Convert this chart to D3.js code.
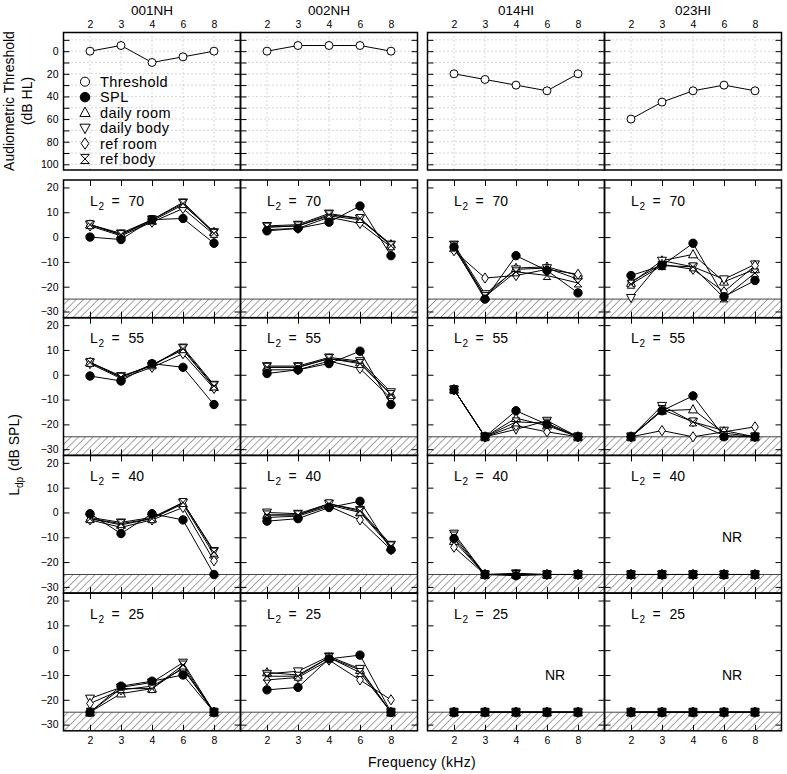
<!DOCTYPE html>
<html><head><meta charset="utf-8">
<script src="https://cdn.jsdelivr.net/npm/d3@7"></script>
<style>body{margin:0;background:#fff}svg text{font-family:"Liberation Sans",Arial,sans-serif;fill:#000}</style>
</head><body>
<svg id="c" width="787" height="774"></svg>
<script>
// ---------------- DATA ----------------
const subjects = ["001NH", "002NH", "014HI", "023HI"];
const freqs = [2, 3, 4, 6, 8];
const levels = [70, 55, 40, 25];
const legendNames = ["Threshold", "SPL", "daily room", "daily body", "ref room", "ref body"];
const audTicks = [-10, 0, 10, 20, 30, 40, 50, 60, 70, 80, 90, 100];
const audLabels = [0, 20, 40, 60, 80, 100];
const dpTicks = [-30, -20, -10, 0, 10, 20];
const noiseFloor = -25;

// audiometric thresholds (dB HL)
const thr001NH = [0, -5, 10, 5, 0];
const thr002NH = [0, -5, -5, -5, 0];
const thr014HI = [20, 25, 30, 35, 20];
const thr023HI = [60, 45, 35, 30, 35];

// DPOAE levels: rows = SPL, daily room, daily body, ref room, ref body
const dp001NH_70 = [[0,-1,7,7.5,-2.5],[5,1,6.5,13,2],[5,1.5,7,14,2],[4.5,0.5,6,11.5,1],[5,1,7,13.5,1.5]];
const dp001NH_55 = [[-0.5,-2.5,4.5,3,-12],[5,-1,4,10,-5],[5,-0.5,3.5,11,-4],[4.5,-1.5,3,8.5,-5.5],[5,-1,4,10.5,-4.5]];
const dp001NH_40 = [[-0.5,-8.5,-0.5,-3,-25],[-2.5,-5,-2.5,3.5,-17],[-2,-4,-2,4,-15.5],[-3,-6,-3,2,-19.5],[-2.5,-4.5,-2.5,4,-16]];
const dp001NH_25 = [[-25,-14.5,-12.5,-10,-25],[-25,-17.5,-15.5,-7,-25],[-19.5,-15,-13,-5,-25],[-21.5,-16,-14.5,-7.5,-25],[-25,-15.5,-15.5,-6,-25]];

const dp002NH_70 = [[2.5,3.5,6,12.5,-7.5],[4,4.5,8.5,7,-3],[4.5,5,9.5,7.5,-3],[3,3.5,8,5.5,-4],[4,4.5,9,7.5,-3.5]];
const dp002NH_55 = [[0.5,2,4.5,9.5,-12],[3,3,6.5,5,-8],[3.5,3.5,7,5.5,-7],[2,2,5.5,2.5,-9.5],[3,3,6.5,4.5,-8]];
const dp002NH_40 = [[-3.5,-2.5,2,4.5,-15],[-1,-1,3,0,-14],[0,-0.5,3.5,1,-13],[-2,-1.5,2.5,-3,-15],[-1,-1,3.5,0.5,-13.5]];
const dp002NH_25 = [[-16,-15,-3.5,-2,-25],[-9,-10,-3,-8,-25],[-9.5,-8.5,-2.5,-7.5,-25],[-12,-11,-4,-12,-20],[-10.5,-10.5,-3,-9,-25]];

const dp014HI_70 = [[-4,-25,-7.5,-13.5,-22.5],[-4.5,-24,-12.5,-12,-15.5],[-3,-23,-13,-12.5,-17],[-5.5,-16.5,-15.5,-13,-15],[-3.5,-24,-14,-15.5,-18.5]];
const dp014HI_55 = [[-6,-25,-14.5,-20,-25],[-6,-25,-17.5,-20.5,-25],[-6,-25,-22,-18.5,-25],[-6,-25,-20.5,-23,-25],[-6,-25,-19,-19.5,-25]];
const dp014HI_40 = [[-10.5,-25,-25.5,-25,-25],[-11.5,-25,-25,-25,-25],[-8.5,-25,-24.5,-25,-25],[-14,-25,-25,-25,-25],[-9.5,-25,-25,-25,-25]];
const dp014HI_25 = [[-25,-25,-25,-25,-25],[-25,-25,-25,-25,-25],[-25,-25,-25,-25,-25],[-25,-25,-25,-25,-25],[-25,-25,-25,-25,-25]];

const dp023HI_70 = [[-15.5,-11.5,-2.5,-24,-17.5],[-18.5,-9.5,-7,-18,-13],[-24.5,-9.5,-12,-17,-11],[-18,-11,-13,-22,-11.5],[-19,-11.5,-12,-24.5,-14.5]];
const dp023HI_55 = [[-25,-14.5,-8.5,-25,-25],[-25,-14.5,-14,-23.5,-25],[-25,-12.5,-19,-22.5,-25],[-25,-22.5,-25,-23,-21],[-25,-14,-19,-24.5,-25]];
const dp023HI_40 = [[-25,-25,-25,-25,-25],[-25,-25,-25,-25,-25],[-25,-25,-25,-25,-25],[-25,-25,-25,-25,-25],[-25,-25,-25,-25,-25]];
const dp023HI_25 = [[-25,-25,-25,-25,-25],[-25,-25,-25,-25,-25],[-25,-25,-25,-25,-25],[-25,-25,-25,-25,-25],[-25,-25,-25,-25,-25]];

const nrSubjects = ["023HI", "014HI", "023HI"];
const nrLevels = [40, 25, 25];

// ---------------- LAYOUT ----------------
const thresholds = [thr001NH, thr002NH, thr014HI, thr023HI];
const dpData = [
  [dp001NH_70, dp001NH_55, dp001NH_40, dp001NH_25],
  [dp002NH_70, dp002NH_55, dp002NH_40, dp002NH_25],
  [dp014HI_70, dp014HI_55, dp014HI_40, dp014HI_25],
  [dp023HI_70, dp023HI_55, dp023HI_40, dp023HI_25]
];
const colLeft = [63.5, 240.5, 427.5, 604.5], colW = 177;
const audTop = 32.5, audBot = 170;
const dpTop0 = 180, dpH = 137.7;

const svg = d3.select("#c");
const defs = svg.append("defs");
const pat = defs.append("pattern").attr("id", "hatch").attr("patternUnits", "userSpaceOnUse")
  .attr("width", 5.2).attr("height", 5.2).attr("patternTransform", "rotate(45)");
pat.append("line").attr("x1", 0).attr("y1", 0).attr("x2", 0).attr("y2", 5.2)
  .attr("stroke", "#333").attr("stroke-width", 0.9);

// symbol types
const r0 = s => Math.sqrt(s) / 2;
const symTypes = {
  circle: d3.symbolCircle,
  up: { draw(p, s) { const r = r0(s); p.moveTo(0, -r * 1.15); p.lineTo(r * 1.05, r * 0.8); p.lineTo(-r * 1.05, r * 0.8); p.closePath(); } },
  down: { draw(p, s) { const r = r0(s); p.moveTo(0, r * 1.15); p.lineTo(r * 1.05, -r * 0.8); p.lineTo(-r * 1.05, -r * 0.8); p.closePath(); } },
  diamond: { draw(p, s) { const r = r0(s); p.moveTo(0, -r * 1.2); p.lineTo(r * 0.8, 0); p.lineTo(0, r * 1.2); p.lineTo(-r * 0.8, 0); p.closePath(); } },
  hour: { draw(p, s) { const r = r0(s); p.moveTo(-r * 0.95, -r); p.lineTo(r * 0.95, -r); p.lineTo(-r * 0.95, r); p.lineTo(r * 0.95, r); p.closePath(); } }
};
// series styles (legend order)
const seriesStyle = [
  { type: symTypes.circle, fill: "#fff", size: 50 },   // Threshold
  { type: symTypes.circle, fill: "#000", size: 55 },   // SPL
  { type: symTypes.up, fill: "#fff", size: 72 },       // daily room
  { type: symTypes.down, fill: "#fff", size: 72 },     // daily body
  { type: symTypes.diamond, fill: "#fff", size: 72 },  // ref room
  { type: symTypes.hour, fill: "#fff", size: 64 }      // ref body
];
const drawOrder = [2, 3, 4, 5, 1]; // indices into seriesStyle for dp series

function cleanAxis(g) { g.select(".domain").remove(); g.selectAll("text").style("font-size", "10.5px"); }

subjects.forEach((subj, c) => {
  const L = colLeft[c], R = L + colW;
  const x = d3.scalePoint().domain(freqs).range([L, R]).padding(0.855);

  // ---- audiogram panel ----
  const ya = d3.scaleLinear().domain([-16.5, 105]).range([audTop, audBot]);
  const ga = svg.append("g");
  ga.selectAll(".gx").data(freqs).join("line")
    .attr("x1", d => x(d)).attr("x2", d => x(d)).attr("y1", audTop).attr("y2", audBot)
    .attr("stroke", "#999").attr("stroke-width", 0.8).attr("stroke-dasharray", "1,3");
  ga.selectAll(".gy").data(audTicks).join("line")
    .attr("x1", L).attr("x2", R).attr("y1", d => ya(d)).attr("y2", d => ya(d))
    .attr("stroke", "#999").attr("stroke-width", 0.8).attr("stroke-dasharray", "1,3");
  ga.append("g").attr("transform", `translate(${L},0)`)
    .call(d3.axisLeft(ya).tickValues(audTicks).tickSize(-6).tickPadding(5)
      .tickFormat(d => (c === 0 && audLabels.includes(d)) ? d : ""))
    .call(cleanAxis);
  ga.append("g").attr("transform", `translate(${R},0)`)
    .call(d3.axisRight(ya).tickValues(audTicks).tickSize(-6).tickFormat(""))
    .call(cleanAxis);
  ga.append("g").attr("transform", `translate(0,${audTop})`)
    .call(d3.axisTop(x).tickSize(0).tickPadding(5))
    .call(cleanAxis);
  ga.append("rect").attr("x", L).attr("y", audTop).attr("width", colW).attr("height", audBot - audTop)
    .attr("fill", "none").attr("stroke", "#000").attr("stroke-width", 1.5);
  const thr = thresholds[c];
  ga.append("path").datum(thr)
    .attr("d", d3.line().x((d, i) => x(freqs[i])).y(d => ya(d)))
    .attr("fill", "none").attr("stroke", "#000").attr("stroke-width", 1);
  ga.selectAll(".tm").data(thr).join("path")
    .attr("transform", (d, i) => `translate(${x(freqs[i])},${ya(d)})`)
    .attr("d", d3.symbol().type(seriesStyle[0].type).size(seriesStyle[0].size))
    .attr("fill", "#fff").attr("stroke", "#000").attr("stroke-width", 1);
  svg.append("text").attr("x", (L + R) / 2).attr("y", 15).attr("text-anchor", "middle")
    .style("font-size", "13.5px").text(subj);

  // ---- DP panels ----
  levels.forEach((lev, r) => {
    const T = dpTop0 + r * dpH, B = T + dpH;
    const y = d3.scaleLinear().domain([23, -32.5]).range([T, B]);
    const g = svg.append("g");
    g.append("rect").attr("x", L).attr("y", y(noiseFloor)).attr("width", colW).attr("height", B - y(noiseFloor))
      .attr("fill", "url(#hatch)");
    g.append("line").attr("x1", L).attr("x2", R).attr("y1", y(noiseFloor)).attr("y2", y(noiseFloor))
      .attr("stroke", "#444").attr("stroke-width", 1);
    g.append("g").attr("transform", `translate(${L},0)`)
      .call(d3.axisLeft(y).tickValues(dpTicks).tickSize(-6).tickPadding(5)
        .tickFormat(c === 0 ? d3.format("d") : ""))
      .call(cleanAxis);
    g.append("g").attr("transform", `translate(${R},0)`)
      .call(d3.axisRight(y).tickValues(dpTicks).tickSize(-6).tickFormat(""))
      .call(cleanAxis);
    g.append("g").attr("transform", `translate(0,${T})`)
      .call(d3.axisTop(x).tickSize(-6).tickFormat(""))
      .call(cleanAxis);
    g.append("g").attr("transform", `translate(0,${B})`)
      .call(d3.axisBottom(x).tickSize(-6).tickPadding(6).tickFormat(r === levels.length - 1 ? d => d : ""))
      .call(cleanAxis);
    g.append("rect").attr("x", L).attr("y", T).attr("width", colW).attr("height", dpH)
      .attr("fill", "none").attr("stroke", "#000").attr("stroke-width", 1.5);

    const lx = x(freqs[0]), ly = T + 25.5;
    const t = g.append("text").attr("x", lx).attr("y", ly).style("font-size", "14px");
    t.append("tspan").text("L");
    t.append("tspan").attr("x", lx + 8.5).attr("dy", 4).style("font-size", "10px").text("2");
    t.append("tspan").attr("x", lx + 21.5).attr("dy", -4).text("=");
    t.append("tspan").attr("x", lx + 38.5).text(lev);

    nrSubjects.forEach((s, k) => {
      if (s === subj && nrLevels[k] === lev) {
        g.append("text").attr("x", x(6) + 8).attr("y", y(-10) + 5).attr("text-anchor", "middle")
          .style("font-size", "14px").text("NR");
      }
    });

    const data = dpData[c][r];
    drawOrder.forEach(si => {
      const vals = data[si - 1];
      const st = seriesStyle[si];
      g.append("path").datum(vals)
        .attr("d", d3.line().x((d, i) => x(freqs[i])).y(d => y(d)))
        .attr("fill", "none").attr("stroke", "#000").attr("stroke-width", 1);
      g.selectAll(null).data(vals).join("path")
        .attr("transform", (d, i) => `translate(${x(freqs[i])},${y(d)})`)
        .attr("d", d3.symbol().type(st.type).size(st.size))
        .attr("fill", st.fill).attr("stroke", "#000").attr("stroke-width", 1);
    });
  });
});

// legend
const legX = 85, legY0 = 81.7, legDy = 15.45;
legendNames.forEach((name, i) => {
  const st = seriesStyle[i];
  svg.append("path").attr("transform", `translate(${legX},${legY0 + i * legDy})`)
    .attr("d", d3.symbol().type(st.type).size(st.size * 1.3))
    .attr("fill", st.fill).attr("stroke", "#000").attr("stroke-width", 1);
  svg.append("text").attr("x", 100).attr("y", legY0 + i * legDy + 5)
    .style("font-size", "14.5px").style("letter-spacing", "0.4px").text(name);
});

// axis titles
svg.append("text").attr("transform", "translate(14,101) rotate(-90)").attr("text-anchor", "middle")
  .style("font-size", "14px").text("Audiometric Threshold");
svg.append("text").attr("transform", "translate(32,101) rotate(-90)").attr("text-anchor", "middle")
  .style("font-size", "14px").text("(dB HL)");
const yl = svg.append("text").attr("transform", "translate(19,455) rotate(-90)").attr("text-anchor", "middle")
  .style("font-size", "14px");
yl.append("tspan").text("L");
yl.append("tspan").attr("dy", 4).style("font-size", "10px").text("dp");
yl.append("tspan").attr("dy", -4).attr("dx", 6).text("(dB SPL)");
svg.append("text").attr("x", 422).attr("y", 767).attr("text-anchor", "middle")
  .style("font-size", "14px").style("letter-spacing", "0.3px").text("Frequency (kHz)");
</script>
</body></html>
